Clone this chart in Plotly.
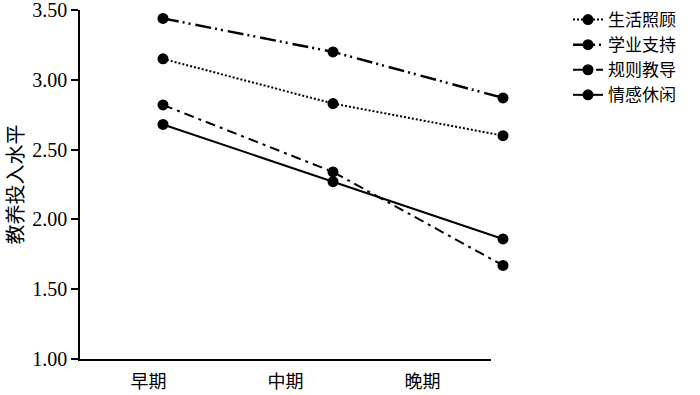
import plotly.graph_objects as go

periods = ["早期", "中期", "晚期"]
series_names = ["生活照顾", "学业支持", "规则教导", "情感休闲"]
life_care = [3.15, 2.83, 2.60]
study_support = [3.44, 3.20, 2.87]
rule_teaching = [2.82, 2.34, 1.67]
emotion_leisure = [2.68, 2.27, 1.86]
y_ticks = [1.0, 1.5, 2.0, 2.5, 3.0, 3.5]
y_ticktext = ["1.00", "1.50", "2.00", "2.50", "3.00", "3.50"]

values = [life_care, study_support, rule_teaching, emotion_leisure]
dashes = ["2px,2px", "16px,4px,2px,4px,2px,5px", "10px,5px,3px,5px", "solid"]
widths = [2, 2.5, 2, 2]

CJK = "Noto Sans CJK SC"
SERIF = "Liberation Serif"

W, H = 700, 395
ml, mr, mt, mb = 80, 0, 10, 36
pw = W - ml - mr
ph = H - mt - mb
axis_end = 491
data_end = 520

fig = go.Figure()
# dummy trace to register the visible category axis
fig.add_trace(go.Scatter(x=periods, y=[None] * 3, xaxis="x", yaxis="y",
                         showlegend=False, hoverinfo="skip", mode="lines"))
for name, vals, dash, w in zip(series_names, values, dashes, widths):
    fig.add_trace(go.Scatter(
        x=periods, y=vals, name=name, xaxis="x2", yaxis="y",
        mode="lines+markers",
        line=dict(color="black", width=w, dash=dash),
        marker=dict(color="black", size=11, symbol="circle"),
        cliponaxis=False,
    ))

# data axis: first point at 163px, spacing 170px
px_per = 170.0
r0 = -(163 - ml) / px_per
r1 = (data_end - 163) / px_per

fig.update_layout(
    width=W, height=H,
    margin=dict(l=ml, r=mr, t=mt, b=mb, autoexpand=False),
    paper_bgcolor="white", plot_bgcolor="white",
    showlegend=True,
    legend=dict(
        x=(568 - ml) / pw, xanchor="left",
        y=1.0 + 8 / ph, yanchor="top",
        font=dict(family=CJK, size=17, color="black"),
        bgcolor="rgba(0,0,0,0)",
        tracegroupgap=0,
        itemwidth=30,
    ),
    xaxis=dict(
        type="category", categoryarray=periods, range=[-0.5, 2.5],
        domain=[0, (axis_end - ml) / pw],
        anchor="y", automargin=False,
        showline=True, linecolor="black", linewidth=1.5,
        ticks="inside", ticklen=7, tickcolor="black", tickwidth=1.5,
        tickson="boundaries",
        showgrid=False, zeroline=False,
        ticklabelstandoff=6,
        tickfont=dict(family=CJK, size=18, color="black"),
    ),
    xaxis2=dict(
        type="category", categoryarray=periods, range=[r0, r1],
        domain=[0, (data_end - ml) / pw],
        anchor="y", automargin=False,
        showline=False, showticklabels=False, ticks="",
        showgrid=False, zeroline=False,
    ),
    yaxis=dict(
        range=[1.0, 3.5], anchor="x", automargin=False,
        tickvals=y_ticks, ticktext=y_ticktext,
        ticklabeloverflow="allow",
        showline=True, linecolor="black", linewidth=1.5,
        ticks="outside", ticklen=7, tickcolor="black", tickwidth=1.5,
        showgrid=False, zeroline=False,
        tickfont=dict(family=SERIF, size=20, color="black"),
        title=dict(text="教养投入水平", font=dict(family=CJK, size=20, color="black"), standoff=10),
    ),
)

fig.write_html("out.html")
